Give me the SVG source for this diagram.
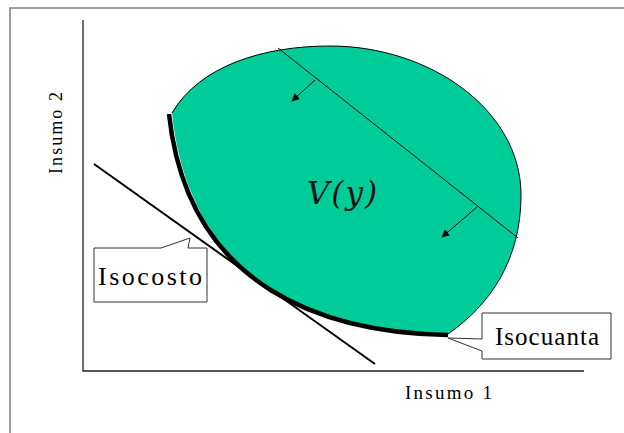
<svg xmlns="http://www.w3.org/2000/svg" width="624" height="433" viewBox="0 0 624 433">
<style>
.frame{stroke:#808080;stroke-width:1.5;fill:none}
.axis{stroke:#222;stroke-width:1.3;fill:none}
.lbl{font-family:"Liberation Serif","Times New Roman",serif;fill:#000}
.callout{fill:#fff;stroke:#333;stroke-width:1}
.thin{stroke:#000;stroke-width:1;fill:none}
</style>
<defs>
<marker id="ah" viewBox="0 0 10 10" refX="9" refY="5" markerWidth="8" markerHeight="8" markerUnits="userSpaceOnUse" orient="auto">
<path d="M0,0 L10,5 L0,10 Z" fill="#000"/>
</marker>
</defs>
<rect width="624" height="433" fill="#fff"/>
<g id="frame">
<path class="frame" d="M10,433 L10,8 L624,8"/>
</g>
<g id="axes">
<path class="axis" d="M83,20 L83,371 L584,371"/>
<text class="lbl" x="405" y="399" font-size="19" textLength="87" lengthAdjust="spacing">Insumo 1</text>
<text class="lbl" transform="translate(62,133) rotate(-90)" x="0" y="0" text-anchor="middle" font-size="18" textLength="82" lengthAdjust="spacing">Insumo 2</text>
</g>
<g id="region">
<path d="M172,113 C200,65 265,46 330,46 C430,46 521,110 521,195 C521,260 490,305 448,334 C330,333 190,290 172,113 Z" fill="#00CC99" stroke="none"/>
<path class="thin" d="M172,113 C200,65 265,46 330,46 C430,46 521,110 521,195 C521,260 490,305 448,334"/>
<text x="307" y="204" font-family="DejaVu Serif, serif" font-style="italic" font-size="31" textLength="70" lengthAdjust="spacing" fill="#111">V(y)</text>
</g>
<g id="isocuanta-curve">
<path d="M448,335 C330,333 188,292 169,114" fill="none" stroke="#000" stroke-width="4.5"/>
</g>
<g id="connectors">
<line class="thin" x1="278" y1="48" x2="518" y2="238"/>
<line class="thin" x1="315" y1="80" x2="292" y2="101" marker-end="url(#ah)"/>
<line class="thin" x1="477" y1="207" x2="442" y2="237" marker-end="url(#ah)"/>
<line x1="94" y1="164" x2="375" y2="364" stroke="#000" stroke-width="2"/>
</g>
<g id="isocosto">
<path class="callout" d="M94,248 L161,248 L190,238 L188,248 L207,248 L207,302 L94,302 Z"/>
<text class="lbl" x="98" y="285" font-size="26" textLength="104" lengthAdjust="spacing">Isocosto</text>
</g>
<g id="isocuanta">
<path class="callout" d="M482,313 L611,313 L611,359 L482,359 L482,351 L448,338 L482,339 Z"/>
<text class="lbl" x="495" y="345" font-size="25" textLength="104" lengthAdjust="spacing">Isocuanta</text>
</g>
</svg>
